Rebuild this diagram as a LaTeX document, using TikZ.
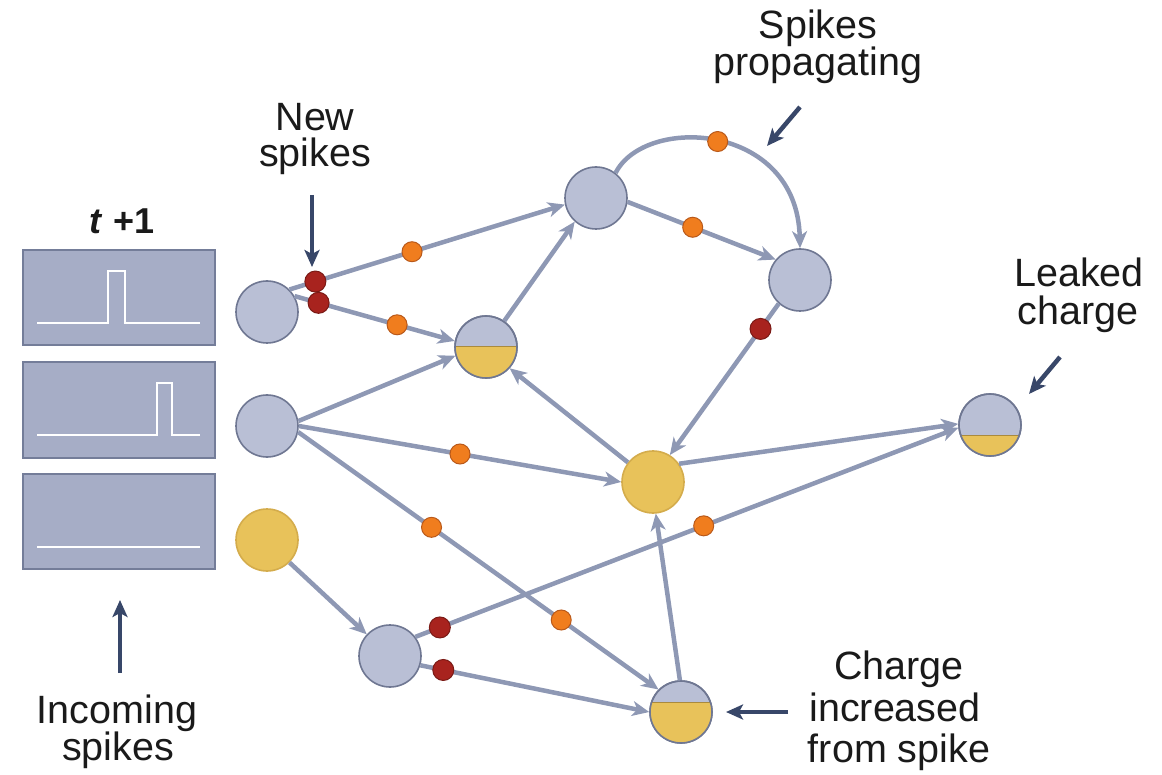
\documentclass[tikz,border=0pt]{standalone}
\usepackage{fontspec}
\setmainfont{Liberation Sans}
\usetikzlibrary{arrows.meta}
\definecolor{nblue}{HTML}{B9BFD5}
\definecolor{nborder}{HTML}{6F7792}
\definecolor{nyellow}{HTML}{E8C25A}
\definecolor{yborder}{HTML}{D4AC4C}
\definecolor{boxfill}{HTML}{A6ADC6}
\definecolor{boxborder}{HTML}{747D99}
\definecolor{edgec}{HTML}{8E98B4}
\definecolor{dorange}{HTML}{F07D1E}
\definecolor{dorangeb}{HTML}{B9591A}
\definecolor{dred}{HTML}{A8231E}
\definecolor{dredb}{HTML}{7A1A15}
\definecolor{annoc}{HTML}{384769}
\definecolor{textc}{HTML}{1A1A1A}
\begin{document}
\begin{tikzpicture}[x=1pt,y=-1pt,
  neuron/.style={circle, minimum size=62pt, inner sep=0pt, line width=1.6pt, draw=nborder, fill=nblue},
  yneuron/.style={neuron, fill=nyellow, draw=yborder},
  conn/.style={line width=4.5pt, draw=edgec, -{Stealth[length=17pt,width=15pt,inset=5pt]}},
  odot/.style={circle, minimum size=20pt, inner sep=0pt, fill=dorange, draw=dorangeb, line width=1pt},
  rdot/.style={circle, minimum size=21pt, inner sep=0pt, fill=dred, draw=dredb, line width=1pt},
  anno/.style={line width=4.5pt, draw=annoc, -{Stealth[length=17pt,width=15pt,inset=4pt]}},
  lbl/.style={font=\fontsize{39.5}{40}\selectfont, text=textc, inner sep=0pt, anchor=base},
  inbox/.style={rectangle, minimum width=192pt, inner sep=0pt, fill=boxfill, draw=boxborder, line width=1.4pt},
  pulse/.style={draw=white, line width=2.4pt}
]
\useasboundingbox (0,0) rectangle (1162,775);

% input boxes
\node[inbox, minimum height=95pt] (box1) at (119,297.5) {};
\node[inbox, minimum height=96pt] (box2) at (119,410) {};
\node[inbox, minimum height=95pt] (box3) at (119,521.5) {};
\draw[pulse] (37,323) -- (108,323) -- (108,271) -- (125,271) -- (125,323) -- (200,323);
\draw[pulse] (37,435) -- (157,435) -- (157,383) -- (172,383) -- (172,435) -- (200,435);
\draw[pulse] (37,547) -- (200,547);
\node[lbl, font=\fontsize{36}{38}\selectfont\bfseries] (tlab) at (122,234) {\textit{t} +1};

% neurons
\node[neuron] (A1) at (267,312) {};
\node[neuron] (A2) at (267,426) {};
\node[yneuron] (A3) at (267,540) {};
\node[neuron] (B) at (486,347) {};
\node[neuron] (C) at (596,198) {};
\node[neuron] (D) at (800,280) {};
\node[yneuron] (E) at (653,482) {};
\node[neuron] (F) at (990,425) {};
\node[neuron] (G) at (390,656) {};
\node[neuron] (H) at (681,712) {};

% partial charge fills
\begin{scope}
  \clip (B.center) circle (31);
  \fill[nyellow] (450,347) rectangle (520,380);
  \draw[yborder!80!black, line width=1pt] (450,347) -- (520,347);
\end{scope}
\draw[nborder, line width=1.6pt] (B.center) circle (31);
\begin{scope}
  \clip (F.center) circle (31);
  \fill[nyellow] (955,435) rectangle (1025,460);
  \draw[yborder!80!black, line width=1pt] (955,435) -- (1025,435);
\end{scope}
\draw[nborder, line width=1.6pt] (F.center) circle (31);
\begin{scope}
  \clip (H.center) circle (31);
  \fill[nyellow] (645,702) rectangle (720,748);
  \draw[yborder!80!black, line width=1pt] (645,702) -- (720,702);
\end{scope}
\draw[nborder, line width=1.6pt] (H.center) circle (31);

% connections
\draw[conn] (A1.45) -- (C.192) node[rdot, pos=0.094] (r1) {} node[odot, pos=0.445] (o1) {};
\draw[conn] (A1.30) -- (B.169) node[rdot, pos=0.15] (r2) {} node[odot, pos=0.64] (o2) {};
\draw[conn] (A2.9) -- (B.196);
\draw[conn] (A2.0) -- (E.180) node[odot, pos=0.5] (o3) {};
\draw[conn] (A2.349) -- (H.135) node[odot, pos=0.37] (o4) {} node[odot, pos=0.73] (o5) {};
\draw[conn] (A3.315) -- (G.137);
\draw[conn] (G.37) -- (F.185) node[rdot, pos=0.045] (r3) {} node[odot, pos=0.531] (o6) {};
\draw[conn] (G.343) -- (H.180) node[rdot, pos=0.10] (r4) {};
\draw[conn] (B.55) -- (C.228);
\draw[conn] (C.353) -- (D.140) node[odot, pos=0.44] (o7) {};
\draw[conn] (C.52) .. controls (645,115) and (797,122) .. (D.90) node[odot, pos=0.5] (o8) {};
\draw[conn] (D.228) -- (E.58) node[rdot, pos=0.167] (r5) {};
\draw[conn] (E.142) -- (B.318);
\draw[conn] (E.35) -- (F.178);
\draw[conn] (H.92) -- (E.275);

% annotations
\coordinate (ns1) at (312,195); \coordinate (ns2) at (312,267);
\draw[anno] (ns1) -- (ns2);
\coordinate (sp1) at (800,107); \coordinate (sp2) at (767,146);
\draw[anno] (sp1) -- (sp2);
\coordinate (lk1) at (1060,357); \coordinate (lk2) at (1029,394);
\draw[anno] (lk1) -- (lk2);
\coordinate (ch1) at (788,712); \coordinate (ch2) at (726,712);
\draw[anno] (ch1) -- (ch2);
\coordinate (in1) at (120,673); \coordinate (in2) at (120,600);
\draw[anno] (in1) -- (in2);

% labels
\node[lbl] (new1) at (315,131) {New};
\node[lbl] (new2) at (315,167) {spikes};
\node[lbl] (sp1t) at (818,39) {Spikes};
\node[lbl] (sp2t) at (818,76) {propagating};
\node[lbl] (lk1t) at (1079,287) {Leaked};
\node[lbl] (lk2t) at (1078,325) {charge};
\node[lbl] (ch1t) at (899,679) {Charge};
\node[lbl] (ch2t) at (895,721) {increased};
\node[lbl] (ch3t) at (899,762) {from spike};
\node[lbl] (in1t) at (117,723) {Incoming};
\node[lbl] (in2t) at (118,760) {spikes};
\end{tikzpicture}
\end{document}
